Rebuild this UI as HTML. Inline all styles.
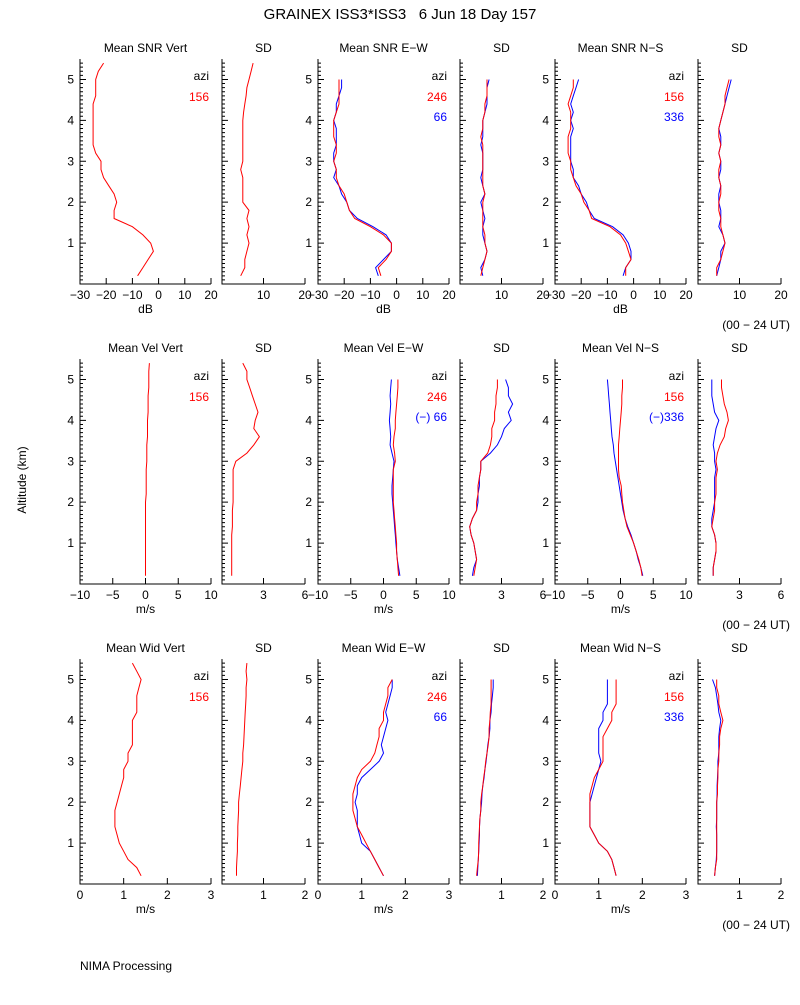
<!DOCTYPE html>
<html><head><meta charset="utf-8"><style>
body{margin:0;background:#fff;width:800px;height:1000px;overflow:hidden}
svg text{font-family:"Liberation Sans",sans-serif;font-size:12px;fill:#000}
</style></head><body>
<svg id="c" width="800" height="1000"></svg>
<script>
const ALT=[0.2,0.4,0.6,0.8,1.0,1.2,1.4,1.6,1.8,2.0,2.2,2.4,2.6,2.8,3.0,3.2,3.4,3.6,3.8,4.0,4.2,4.4,4.6,4.8,5.0,5.2,5.4];
// Row 1: SNR (dB)
const snrVert=[-8,-6,-4,-2,-3,-6,-10,-17,-17,-16,-17,-19,-21,-22,-22,-24,-25,-25,-25,-25,-25,-25,-24,-24,-24,-23,-21];
const snrVertSD=[4.5,5.5,5.5,6,6.5,6,6.5,6,6.5,5,5,5,5,4.5,5,5,5,5,5,5,5.2,5.5,5.8,6,6.5,7,7.5];
const snrEWr=[-6,-7,-4,-2,-2,-5,-10,-16,-18,-19,-20,-22,-23,-23,-24,-23,-23,-24,-24,-24,-23,-22,-22,-22,-22];
const snrEWb=[-7,-8,-5,-2,-2,-4,-9,-15,-18,-19,-21,-22,-24,-23,-24,-24,-23,-23,-23,-24,-23,-23,-22,-21,-21];
const snrEWsdR=[5,5.5,6,6.5,6,6,5.5,5.5,5.5,5.5,6,5.5,5.5,5.5,5.5,5.5,5.5,5,5.5,5.5,6,6,6.5,6.5,6.5];
const snrEWsdB=[5.5,5,6,6.5,6,5.5,5.5,6,5.5,5,6,5.5,5,5.5,5.5,5.5,5,5.5,5.5,5.5,6,6.5,6.5,6.5,7];
const snrNSr=[-3,-3,-1,-2,-3,-5,-9,-16,-17,-19,-20,-22,-23,-24,-24,-25,-25,-25,-24,-24,-24,-25,-24,-23,-23];
const snrNSb=[-4,-3,-1,-1,-2,-4,-8,-15,-17,-18,-20,-21,-23,-23,-24,-24,-24,-24,-23,-24,-23,-24,-23,-22,-21];
const snrNSsdR=[4.5,4.5,5.5,6,6.5,6,5.5,5.5,5,5,5.5,5.5,5,5,5.5,5,5.5,5,5,5.5,6,6.5,6.5,7,7.5];
const snrNSsdB=[4.5,5,5.5,5.5,6.5,6,5,5.5,5.5,5,5,5.5,5,5.5,5.5,5,5.5,5.5,5,5.5,6,6.5,7,7.5,8];
// Row 2: velocity (m/s)
const velVert=[0,0,0,0,0,0,0,0,0,0,0.1,0.1,0.1,0.1,0.2,0.2,0.2,0.3,0.3,0.3,0.4,0.4,0.4,0.5,0.5,0.5,0.6];
const velVertSD=[0.7,0.7,0.7,0.7,0.7,0.7,0.75,0.75,0.75,0.8,0.8,0.8,0.8,0.8,1.0,1.8,2.3,2.7,2.3,2.4,2.6,2.4,2.2,2.0,1.8,1.8,1.5];
const velEWr=[2.3,2.2,2.1,2.0,2.0,1.9,1.8,1.7,1.6,1.5,1.5,1.5,1.5,1.5,1.8,1.7,1.5,1.6,1.8,1.8,1.9,2.0,2.1,2.2,2.2];
const velEWb=[2.5,2.3,2.1,2.0,1.9,1.8,1.7,1.6,1.5,1.4,1.3,1.3,1.4,1.5,1.6,1.3,1.0,1.1,1.0,0.9,1.0,1.1,1.0,1.1,1.2];
const velEWsdR=[1.0,1.1,1.2,1.1,1.0,0.8,0.7,0.9,1.2,1.2,1.3,1.3,1.4,1.5,1.5,2.0,2.2,2.3,2.3,2.5,2.5,2.6,2.6,2.7,2.7];
const velEWsdB=[0.9,1.0,1.2,1.1,1.0,0.8,0.7,0.9,1.2,1.3,1.3,1.4,1.4,1.5,1.5,2.2,2.7,3.0,3.2,3.7,3.5,3.8,3.5,3.5,3.3];
const velNSr=[3.3,3.1,2.8,2.4,2.0,1.5,1.0,0.7,0.5,0.3,0.2,0.1,-0.2,-0.3,-0.3,-0.3,-0.3,-0.2,-0.1,0,0.1,0.2,0.2,0.3,0.3];
const velNSb=[3.4,3.1,2.7,2.4,2.0,1.6,1.1,0.7,0.4,0.2,0,-0.2,-0.4,-0.6,-0.8,-1.0,-1.1,-1.3,-1.4,-1.5,-1.6,-1.7,-1.8,-1.9,-2.0];
const velNSsdR=[1.1,1.1,1.2,1.3,1.3,1.2,1.0,1.1,1.2,1.2,1.3,1.3,1.3,1.4,1.3,1.4,1.6,1.9,2.0,2.2,2.1,1.9,1.8,1.7,1.7];
const velNSsdB=[1.1,1.1,1.2,1.3,1.3,1.2,1.0,1.0,1.1,1.2,1.2,1.2,1.2,1.3,1.2,1.2,1.1,1.2,1.3,1.5,1.2,1.1,1.0,1.0,1.0];
// Row 3: width (m/s)
const widVert=[1.4,1.3,1.1,1.0,0.9,0.85,0.8,0.8,0.8,0.85,0.9,0.95,1.0,1.0,1.1,1.1,1.2,1.2,1.2,1.2,1.3,1.3,1.3,1.35,1.4,1.3,1.2];
const widVertSD=[0.35,0.35,0.36,0.37,0.37,0.38,0.38,0.39,0.4,0.4,0.42,0.44,0.46,0.48,0.5,0.5,0.52,0.53,0.54,0.55,0.56,0.57,0.58,0.58,0.6,0.58,0.6];
const widEWr=[1.5,1.4,1.3,1.2,1.1,1.0,0.9,0.85,0.8,0.8,0.8,0.85,0.9,1.0,1.2,1.3,1.35,1.4,1.4,1.5,1.5,1.55,1.6,1.6,1.7];
const widEWb=[1.5,1.4,1.3,1.2,1.0,0.95,0.9,0.9,0.9,0.85,0.9,0.9,1.0,1.2,1.4,1.5,1.45,1.5,1.55,1.6,1.55,1.6,1.65,1.7,1.7];
const widEWsdR=[0.4,0.42,0.44,0.45,0.45,0.46,0.47,0.48,0.5,0.5,0.52,0.55,0.57,0.6,0.62,0.65,0.68,0.7,0.7,0.72,0.73,0.75,0.75,0.75,0.75];
const widEWsdB=[0.42,0.43,0.44,0.45,0.46,0.47,0.47,0.48,0.5,0.52,0.53,0.55,0.58,0.6,0.63,0.65,0.67,0.7,0.72,0.72,0.75,0.76,0.78,0.8,0.8];
const widNSr=[1.4,1.35,1.3,1.2,1.0,0.9,0.8,0.8,0.8,0.8,0.8,0.85,0.9,1.0,1.1,1.1,1.1,1.1,1.2,1.3,1.3,1.4,1.4,1.4,1.4];
const widNSb=[1.4,1.35,1.3,1.2,1.0,0.9,0.8,0.8,0.8,0.8,0.85,0.9,0.95,1.0,1.05,1.0,1.0,1.0,1.0,1.1,1.1,1.2,1.2,1.2,1.2];
const widNSsdR=[0.4,0.42,0.45,0.45,0.45,0.45,0.45,0.45,0.45,0.45,0.47,0.47,0.48,0.48,0.5,0.5,0.52,0.52,0.55,0.6,0.55,0.5,0.5,0.45,0.45];
const widNSsdB=[0.4,0.42,0.44,0.45,0.45,0.45,0.44,0.45,0.45,0.45,0.46,0.46,0.47,0.48,0.48,0.5,0.5,0.5,0.52,0.55,0.5,0.48,0.45,0.42,0.35];

const yTickLabels=["1","2","3","4","5"];
const snrTicks=[-30,-20,-10,0,10,20], velTicks=[-10,-5,0,5,10], widTicks=[0,1,2,3];

const svg=document.getElementById('c');
const NS='http://www.w3.org/2000/svg';
function mk(t,a,txt){const e=document.createElementNS(NS,t);for(const k in a)e.setAttribute(k,a[k]);if(txt!=null)e.textContent=txt;svg.appendChild(e);return e;}
const COLX=[80,222,318,460,555,698], MW=131, SW=83;
function ys(top,v){return top+225-v*(225/5.5);}
function panel(name,col,top,w,xmin,xmax,ticks,labels,title,series,unit,legend){
  const left=COLX[col];
  const xs=v=>left+(v-xmin)/(xmax-xmin)*w;
  const bot=top+225;
  const t=mk('text',{x:left+w/2,y:top-7,'text-anchor':'middle'},title);
  
  
  const ax=mk('path',{d:`M${left},${top} V${bot} H${left+w}`,stroke:'#000',fill:'none','stroke-width':1});
  
  
  let d='';
  for(let i=1;i<55;i++){const y=ys(top,i/10);d+=`M${left},${y}h${i%10==0?6:3}`;}
  ticks.forEach(v=>{const x=xs(v);d+=`M${x},${bot}v-6`;});
  mk('path',{d:d,stroke:'#000','stroke-width':1,fill:'none'});
  ticks.forEach((v,i)=>{if(labels[i]==='')return;const l=mk('text',{x:xs(v),y:bot+15,'text-anchor':'middle'},labels[i]);
    
    });
  if(w===MW){yTickLabels.forEach((s,i)=>{const l=mk('text',{x:left-6,y:ys(top,i+1)+4,'text-anchor':'end'},s);
    
    });}
  if(unit){const u=mk('text',{x:left+w/2,y:bot+29,'text-anchor':'middle'},unit);
    
    }
  series.forEach(s=>{const pts=s.v.map((v,i)=>xs(v).toFixed(1)+','+ys(top,ALT[i]).toFixed(1)).join(' ');
    const p=mk('polyline',{points:pts,fill:'none',stroke:s.c,'stroke-width':1});
    
    });
  if(legend){const a=mk('text',{x:left+w-2,y:top+21,'text-anchor':'end'},'azi');
    
    
    legend.forEach((g,i)=>{const l=mk('text',{x:left+w-2,y:top+42+i*20,'text-anchor':'end',style:'fill:'+g.c},g.t);
      
      });}
}
const R='#f00',B='#00f';
const rows=[59,359,659];
// Row1
panel('snr-vert',0,rows[0],MW,-30,20,snrTicks,['−30','−20','−10','0','10','20'],'Mean SNR Vert',[{n:'line-156',v:snrVert,c:R}],'dB',[{t:'156',c:R}]);
panel('snr-vert-sd',1,rows[0],SW,0,20,[10,20],['10','20'],'SD',[{n:'line-156',v:snrVertSD,c:R}]);
panel('snr-ew',2,rows[0],MW,-30,20,snrTicks,['−30','−20','−10','0','10','20'],'Mean SNR E−W',[{n:'line-66',v:snrEWb,c:B},{n:'line-246',v:snrEWr,c:R}],'dB',[{t:'246',c:R},{t:'66',c:B}]);
panel('snr-ew-sd',3,rows[0],SW,0,20,[10,20],['10','20'],'SD',[{n:'line-66',v:snrEWsdB,c:B},{n:'line-246',v:snrEWsdR,c:R}]);
panel('snr-ns',4,rows[0],MW,-30,20,snrTicks,['−30','−20','−10','0','10','20'],'Mean SNR N−S',[{n:'line-336',v:snrNSb,c:B},{n:'line-156',v:snrNSr,c:R}],'dB',[{t:'156',c:R},{t:'336',c:B}]);
panel('snr-ns-sd',5,rows[0],SW,0,20,[10,20],['10','20'],'SD',[{n:'line-336',v:snrNSsdB,c:B},{n:'line-156',v:snrNSsdR,c:R}]);
// Row2
panel('vel-vert',0,rows[1],MW,-10,10,velTicks,['−10','−5','0','5','10'],'Mean Vel Vert',[{n:'line-156',v:velVert,c:R}],'m/s',[{t:'156',c:R}]);
panel('vel-vert-sd',1,rows[1],SW,0,6,[3,6],['3','6'],'SD',[{n:'line-156',v:velVertSD,c:R}]);
panel('vel-ew',2,rows[1],MW,-10,10,velTicks,['−10','−5','0','5','10'],'Mean Vel E−W',[{n:'line-66',v:velEWb,c:B},{n:'line-246',v:velEWr,c:R}],'m/s',[{t:'246',c:R},{t:'(−) 66',c:B}]);
panel('vel-ew-sd',3,rows[1],SW,0,6,[3,6],['3','6'],'SD',[{n:'line-66',v:velEWsdB,c:B},{n:'line-246',v:velEWsdR,c:R}]);
panel('vel-ns',4,rows[1],MW,-10,10,velTicks,['−10','−5','0','5','10'],'Mean Vel N−S',[{n:'line-336',v:velNSb,c:B},{n:'line-156',v:velNSr,c:R}],'m/s',[{t:'156',c:R},{t:'(−)336',c:B}]);
panel('vel-ns-sd',5,rows[1],SW,0,6,[3,6],['3','6'],'SD',[{n:'line-336',v:velNSsdB,c:B},{n:'line-156',v:velNSsdR,c:R}]);
// Row3
panel('wid-vert',0,rows[2],MW,0,3,widTicks,['0','1','2','3'],'Mean Wid Vert',[{n:'line-156',v:widVert,c:R}],'m/s',[{t:'156',c:R}]);
panel('wid-vert-sd',1,rows[2],SW,0,2,[1,2],['1','2'],'SD',[{n:'line-156',v:widVertSD,c:R}]);
panel('wid-ew',2,rows[2],MW,0,3,widTicks,['0','1','2','3'],'Mean Wid E−W',[{n:'line-66',v:widEWb,c:B},{n:'line-246',v:widEWr,c:R}],'m/s',[{t:'246',c:R},{t:'66',c:B}]);
panel('wid-ew-sd',3,rows[2],SW,0,2,[1,2],['1','2'],'SD',[{n:'line-66',v:widEWsdB,c:B},{n:'line-246',v:widEWsdR,c:R}]);
panel('wid-ns',4,rows[2],MW,0,3,widTicks,['0','1','2','3'],'Mean Wid N−S',[{n:'line-336',v:widNSb,c:B},{n:'line-156',v:widNSr,c:R}],'m/s',[{t:'156',c:R},{t:'336',c:B}]);
panel('wid-ns-sd',5,rows[2],SW,0,2,[1,2],['1','2'],'SD',[{n:'line-336',v:widNSsdB,c:B},{n:'line-156',v:widNSsdR,c:R}]);

const ti=mk('text',{x:400,y:19,'text-anchor':'middle',style:'font-size:15px;white-space:pre'},'GRAINEX ISS3*ISS3   6 Jun 18 Day 157');


const ya=mk('text',{x:26,y:480,'text-anchor':'middle',transform:'rotate(-90 26 480)'},'Altitude (km)');


[329,629,929].forEach(y=>{const u=mk('text',{x:790,y:y,'text-anchor':'end'},'(00 − 24 UT)');
  
  });
const np=mk('text',{x:80,y:970},'NIMA Processing');


</script>
</body></html>
